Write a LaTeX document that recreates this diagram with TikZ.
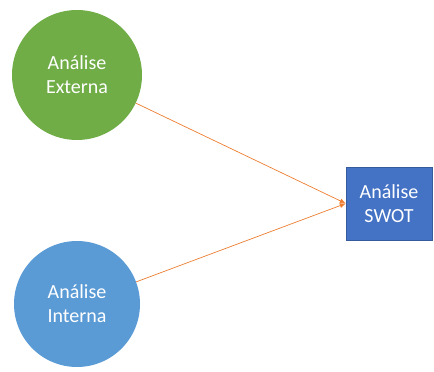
\documentclass[tikz,border=0pt]{standalone}
\usepackage{fontspec}
\setmainfont{Carlito}
\usepackage{xcolor}
\usetikzlibrary{arrows.meta,positioning}
\definecolor{extgreen}{HTML}{70AD47}
\definecolor{intblue}{HTML}{5B9BD5}
\definecolor{swotblue}{HTML}{4472C4}
\definecolor{linkorange}{HTML}{ED7D31}
\begin{document}
\begin{tikzpicture}[x=1pt, y=1pt,
  font=\fontsize{20}{24}\selectfont,
  circ/.style={circle, minimum size=130pt, inner sep=0pt, align=center, text=white},
  ext/.style={circ, fill=extgreen},
  int/.style={circ, fill=intblue, minimum size=126pt},
  box/.style={rectangle, minimum width=86pt, minimum height=73pt, align=center, text=white, fill=swotblue, draw=swotblue!80!black, line width=0.4pt},
  arr/.style={-{Latex[length=6pt, width=5pt]}, draw=linkorange, line width=0.7pt}]
  \useasboundingbox (0,0) rectangle (434,372);
  % --- inputs ---
  \node[ext] (ext) at (77,297) {Análise\\Externa};
  \node[int] (int) at (77,68)  {Análise\\Interna};
  % --- result ---
  \node[box] (swot) at (389,168.5) {Análise\\SWOT};
  \draw[arr] (ext) -- (swot.west);
  \draw[arr] (int) -- (swot.west);
\end{tikzpicture}
\end{document}
